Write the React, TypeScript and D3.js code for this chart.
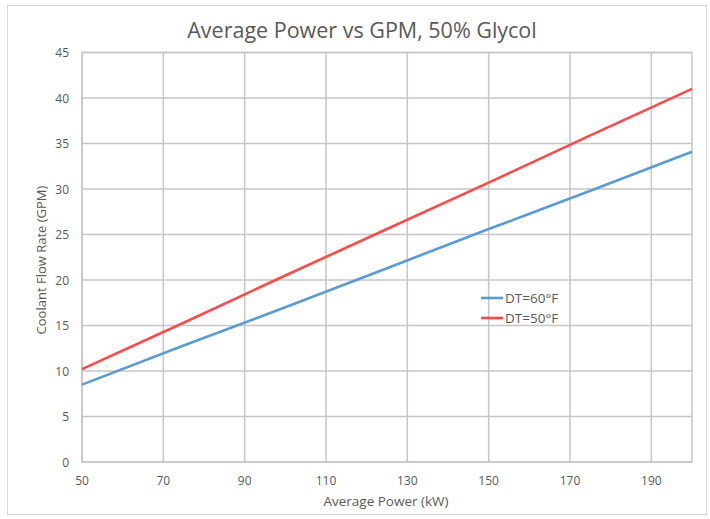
import React from "react";
import * as d3 from "d3";

const power = [50, 75, 100, 125, 150, 175, 200];
const gpm60 = [8.5, 12.8, 17.0, 21.3, 25.6, 29.8, 34.1];
const gpm50 = [10.2, 15.3, 20.5, 25.6, 30.7, 35.9, 41.0];
const xTicks = [50, 70, 90, 110, 130, 150, 170, 190];
const yTicks = [0, 5, 10, 15, 20, 25, 30, 35, 40, 45];
const seriesNames = ["DT=60°F", "DT=50°F"];
const seriesColors = ["#5b9bd5", "#ff4a4a"];

const W = 710, H = 519;
const m = { left: 82, right: 692, top: 52.5, bottom: 462 };
const font = "'Open Sans', 'Liberation Sans', sans-serif";
const txt = "#595959";
const grid = "#c6c6c6";

export default function App() {
  const x = d3.scaleLinear().domain([50, 200]).range([m.left, m.right]);
  const y = d3.scaleLinear().domain([0, 45]).range([m.bottom, m.top]);
  const line = d3.line<number>().x((_, i) => x(power[i])).y((d) => y(d));
  const series = [gpm60, gpm50];
  return (
    <svg width={W} height={H} style={{ position: "absolute", left: 0, top: 0, background: "#fff" }}>
      <rect x={7.5} y={5.5} width={699} height={509} fill="#fff" stroke="#d9d9d9" />
      <text x={362} y={38} textAnchor="middle" fontFamily={font} fontSize={21.5} fill={txt}>
        Average Power vs GPM, 50% Glycol
      </text>
      {yTicks.map((t) => (
        <g key={"y" + t}>
          <line x1={m.left} x2={m.right} y1={y(t)} y2={y(t)} stroke={grid} strokeWidth={1.5} />
          <text x={69} y={y(t) + 4.5} textAnchor="end" fontFamily={font} fontSize={12} fill={txt}>{t}</text>
        </g>
      ))}
      {xTicks.map((t) => (
        <g key={"x" + t}>
          <line x1={x(t)} x2={x(t)} y1={m.top} y2={m.bottom} stroke={grid} strokeWidth={1.5} />
          <text x={x(t)} y={485} textAnchor="middle" fontFamily={font} fontSize={12} fill={txt}>{t}</text>
        </g>
      ))}
      <rect x={m.left} y={m.top} width={m.right - m.left} height={m.bottom - m.top} fill="none" stroke={grid} strokeWidth={1.5} />
      {series.map((s, i) => (
        <path key={"s" + i} d={line(s) || ""} fill="none" stroke={seriesColors[i]} strokeWidth={2.6} />
      ))}
      {seriesNames.map((n, i) => (
        <g key={"l" + i}>
          <line x1={481} x2={503} y1={298 + i * 20} y2={298 + i * 20} stroke={seriesColors[i]} strokeWidth={2.6} />
          <text x={505} y={303 + i * 20} fontFamily={font} fontSize={13.5} fill={txt}>{n}</text>
        </g>
      ))}
      <text x={386} y={506} textAnchor="middle" fontFamily={font} fontSize={13.5} fill={txt}>Average Power (kW)</text>
      <text transform={`translate(46, 260) rotate(-90)`} textAnchor="middle" fontFamily={font} fontSize={13} fill={txt}>
        Coolant Flow Rate (GPM)
      </text>
    </svg>
  );
}
